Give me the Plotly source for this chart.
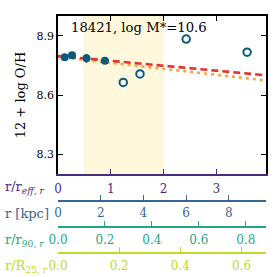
import plotly.graph_objects as go

# ---- data ----
r_filled = [0.127, 0.266, 0.54, 0.888]
oh_filled = [8.791, 8.801, 8.786, 8.774]
oh_filled_err = [0.008, 0.006, 0.022, 0.01]
r_open = [1.236, 1.553, 2.428, 3.582]
oh_open = [8.664, 8.707, 8.883, 8.817]
fit_r = [0.0, 3.94]
fit_red = [8.798, 8.700]
fit_orange = [8.793, 8.674]
shade_r = [0.48, 2.0]

reff_ticks = [0, 1, 2, 3]
kpc_ticks = [0, 2, 4, 6, 8]
r90_ticks = [0.0, 0.2, 0.4, 0.6, 0.8]
r25_ticks = [0.0, 0.2, 0.4, 0.6]
reff_range = [0, 3.94]
kpc_range = [0, 9.74]
r90_range = [0, 0.886]
r25_range = [0, 0.68]
y_range = [8.2, 9.0]
y_ticks = [8.3, 8.6, 8.9]
title_text = "18421, log M*=10.6"

W = H = 277
L, R, T = 58.3, 265.7, 15.7
BOT_MAIN = 174.0
BOT_PAPER = 253.0
pw = R - L
ph = BOT_PAPER - T

def py(pix):
    return (BOT_PAPER - pix) / ph

def px(pix):
    return (pix - L) / pw

FONT = "DejaVu Serif"
PURPLE = "#4b2d7f"
BLUE = "#3a6491"
GREEN = "#25a782"
YELLOW = "#bcdc2a"
MK = "#0b5a80"

fig = go.Figure()

fig.add_trace(go.Scatter(x=fit_r, y=fit_orange, mode="lines",
                         line=dict(color="#ffa040", width=2.6, dash="3px,4px"),
                         showlegend=False, hoverinfo="skip"))
fig.add_trace(go.Scatter(x=fit_r, y=fit_red, mode="lines",
                         line=dict(color="#e8302a", width=2.6, dash="7px,4px"),
                         showlegend=False, hoverinfo="skip"))
fig.add_trace(go.Scatter(x=r_filled, y=oh_filled, mode="markers",
                         marker=dict(color=MK, size=8),
                         error_y=dict(type="data", array=oh_filled_err, color=MK,
                                      thickness=2, width=0),
                         showlegend=False))
fig.add_trace(go.Scatter(x=r_open, y=oh_open, mode="markers",
                         marker=dict(color="white", size=7.5, symbol="circle",
                                     line=dict(color=MK, width=2)),
                         showlegend=False))
# empty traces to activate extra axes
for ax in ["x2", "x3", "x4", "x5"]:
    fig.add_trace(go.Scatter(x=[], y=[], xaxis=ax, yaxis="y", showlegend=False))

fig.add_shape(type="rect", xref="x", yref="y domain", x0=shade_r[0], x1=shade_r[1],
              y0=0, y1=1, fillcolor="#fff8dc", line=dict(width=0), layer="below")

def lower_axis(color, rng, ticks, pos, fmt, standoff):
    return dict(range=rng, tickvals=ticks, ticktext=[fmt.format(t) for t in ticks],
                showline=True, linecolor=color, linewidth=1.5,
                ticks="inside", ticklen=5, tickwidth=1.3, tickcolor=color,
                tickfont=dict(family=FONT, size=12, color=color),
                ticklabelstandoff=standoff,
                showgrid=False, zeroline=False, overlaying="x", automargin=False,
                anchor="free", position=pos, side="bottom")

fig.update_layout(
    width=W, height=H,
    margin=dict(l=L, r=W - R, t=T, b=H - BOT_PAPER, pad=0, autoexpand=False),
    plot_bgcolor="rgba(0,0,0,0)", paper_bgcolor="white",
    xaxis=dict(range=reff_range, tickvals=reff_ticks,
               ticktext=[str(t) for t in reff_ticks],
               showline=True, linecolor=PURPLE, linewidth=1.5,
               ticks="inside", ticklen=5, tickwidth=1.3, tickcolor=PURPLE,
               tickfont=dict(family=FONT, size=12, color=PURPLE),
               ticklabelstandoff=3,
               showgrid=False, zeroline=False, anchor="y", automargin=False),
    xaxis2=lower_axis(BLUE, kpc_range, kpc_ticks, py(201), "{:d}", 1),
    xaxis3=lower_axis(GREEN, r90_range, r90_ticks, py(227), "{:.1f}", 2),
    xaxis4=lower_axis(YELLOW, r25_range, r25_ticks, py(253), "{:.1f}", 2),
    xaxis5=dict(range=reff_range, tickvals=reff_ticks, showticklabels=False,
                showline=True, linecolor="black", linewidth=1.5,
                ticks="inside", ticklen=5, tickwidth=1.3, tickcolor="black",
                showgrid=False, zeroline=False, overlaying="x", anchor="y",
                side="top", automargin=False),
    yaxis=dict(range=y_range, tickvals=y_ticks, ticktext=["8.3", "8.6", "8.9"],
               domain=[py(BOT_MAIN), 1], automargin=False,
               showline=True, linecolor="black", linewidth=1.5, mirror="ticks",
               ticks="inside", ticklen=5, tickwidth=1.3, tickcolor="black",
               tickfont=dict(family=FONT, size=11, color="black"),
               showgrid=False, zeroline=False,
               title=dict(text="12 + log O/H", font=dict(family=FONT, size=13, color="black"),
                          standoff=8)),
    showlegend=False,
)

fig.add_annotation(text=title_text, xref="x domain", yref="y domain",
                   x=px(69), y=(BOT_MAIN - 27) / (BOT_MAIN - T),
                   xanchor="left", yanchor="middle", showarrow=False,
                   font=dict(family=FONT, size=13.2, color="black"))

labels = [("r/r<sub><i>eff, r</i></sub>", PURPLE, 187),
          ("r [kpc]", BLUE, 213),
          ("r/r<sub>90, <i>r</i></sub>", GREEN, 240),
          ("r/R<sub>25, <i>r</i></sub>", YELLOW, 267)]
for txt, col, ypix in labels:
    fig.add_annotation(text=txt, xref="paper", yref="paper", x=px(3), y=py(ypix),
                       xanchor="left", yanchor="middle", showarrow=False,
                       font=dict(family=FONT, size=13, color=col))

fig.write_html("out.html", config={"displayModeBar": False},
               post_script="document.body.style.margin='0px';document.body.style.overflow='hidden';")
